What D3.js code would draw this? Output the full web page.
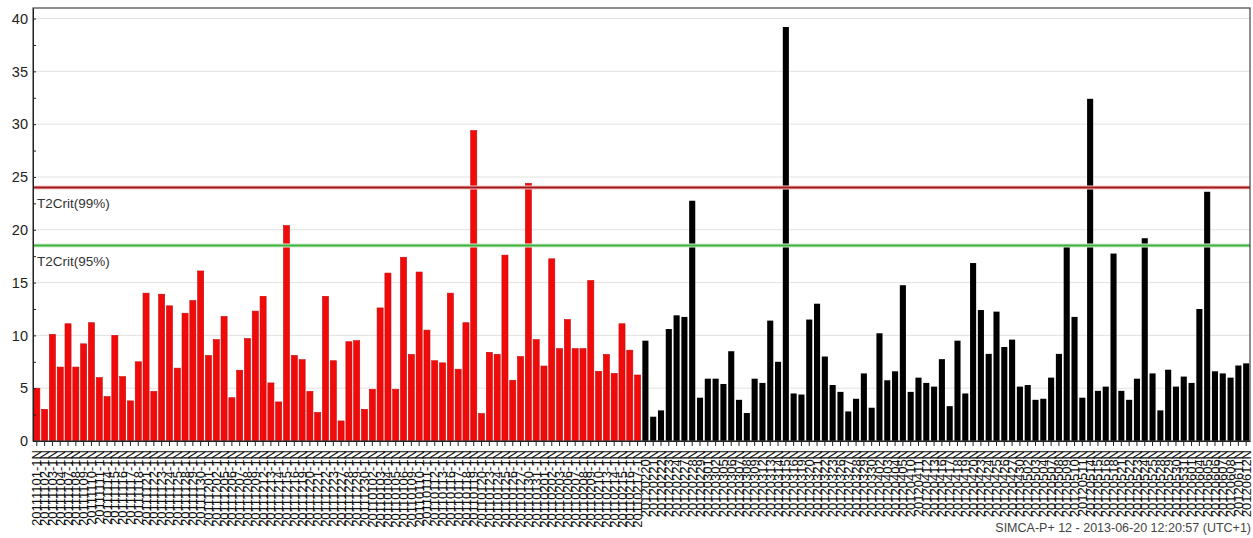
<!DOCTYPE html>
<html>
<head>
<meta charset="utf-8">
<script src="https://cdn.jsdelivr.net/npm/d3@7"></script>
<style>
  body { margin: 0; background: #fff; }
  svg { display: block; font-family: "Liberation Sans", Arial, sans-serif; }
</style>
</head>
<body>
<div id="chart"></div>
<script>
// observation ids, first block (red) and second block (black)
const redIds = ("1101 1102 1103 1104 1107 1108 1109 1110 1111 1114 1115 1116 1117 1118 1121 1122 1123 1124 1125 1128 " +
  "1129 1130 1201 1202 1205 1206 1207 1208 1209 1212 1213 1214 1215 1216 1219 1220 1221 1222 1223 1227 " +
  "1228 1229 1230 0102 0103 0104 0105 0106 0109 0110 0111 0112 0113 0116 0117 0118 0119 0120 0123 0124 " +
  "0125 0126 0127 0130 0131 0201 0202 0203 0206 0207 0208 0209 0210 0213 0214 0215 0216 0217").split(" ");
const blackIds = ("0220 0221 0222 0223 0224 0227 0228 0229 0301 0302 0305 0306 0307 0308 0309 0312 0313 0314 0315 0316 " +
  "0319 0320 0321 0322 0323 0326 0327 0328 0329 0330 0402 0403 0404 0405 0410 0411 0412 0413 0416 0417 " +
  "0418 0419 0420 0423 0424 0425 0426 0427 0430 0502 0503 0504 0507 0508 0509 0510 0511 0514 0515 0516 " +
  "0518 0521 0522 0523 0524 0525 0528 0529 0530 0531 0601 0604 0605 0606 0607 0608 0611 0612").split(" ");

const redValues = [5.0, 3.0, 10.1, 7.0, 11.1, 7.0, 9.2, 11.2, 6.0, 4.2, 10.0, 6.1, 3.8, 7.5, 14.0, 4.7, 13.9, 12.8, 6.9, 12.1,
  13.3, 16.1, 8.1, 9.6, 11.8, 4.1, 6.7, 9.7, 12.3, 13.7, 5.5, 3.7, 20.4, 8.1, 7.7, 4.7, 2.7, 13.7, 7.6, 1.9,
  9.4, 9.5, 3.0, 4.9, 12.6, 15.9, 4.9, 17.4, 8.2, 16.0, 10.5, 7.6, 7.4, 14.0, 6.8, 11.2, 29.4, 2.6, 8.4, 8.2,
  17.6, 5.75, 8.0, 24.4, 9.6, 7.1, 17.25, 8.75, 11.5, 8.75, 8.75, 15.2, 6.6, 8.2, 6.4, 11.1, 8.6, 6.25];
const blackValues = [9.5, 2.3, 2.9, 10.6, 11.9, 11.75, 22.75, 4.1, 5.9, 5.9, 5.4, 8.5, 3.9, 2.65, 5.9, 5.5, 11.4, 7.5, 39.2, 4.5,
  4.4, 11.5, 13.0, 8.0, 5.3, 4.65, 2.8, 4.0, 6.4, 3.15, 10.2, 5.75, 6.6, 14.75, 4.65, 6.0, 5.5, 5.15, 7.75, 3.3,
  9.5, 4.5, 16.85, 12.4, 8.25, 12.25, 8.9, 9.6, 5.15, 5.3, 3.9, 4.0, 6.0, 8.25, 18.5, 11.75, 4.1, 32.4, 4.75, 5.15,
  17.75, 4.75, 3.9, 5.9, 19.2, 6.4, 2.9, 6.75, 5.15, 6.1, 5.5, 12.5, 23.6, 6.6, 6.4, 6.0, 7.15, 7.35];

const limits = [
  { name: "T2Crit(99%)", value: 24.0 },
  { name: "T2Crit(95%)", value: 18.5 }
];
const footer = "SIMCA-P+ 12 - 2013-06-20 12:20:57 (UTC+1)";

const width = 1253;
const height = 538;
const padding = { top: 8, right: 3, bottom: 97, left: 33 };

let data = [];
for (let i = 0; i < redIds.length; i++) {
  data.push({ label: "2011" + redIds[i] + "-1N", value: redValues[i], group: "red" });
}
for (let i = 0; i < blackIds.length; i++) {
  data.push({ label: "2012" + blackIds[i] + "N", value: blackValues[i], group: "black" });
}

const svg = d3.select("#chart")
  .append("svg")
  .attr("width", width)
  .attr("height", height);

const x = d3.scaleBand()
  .domain(data.map(d => d.label))
  .range([padding.left, width - padding.right])
  .paddingInner(0.22)
  .paddingOuter(0.1);

const y = d3.scaleLinear()
  .domain([0, 41])
  .range([height - padding.bottom, padding.top]);

// grid
svg.append("g")
  .selectAll("line")
  .data(d3.range(5, 41, 5))
  .enter()
  .append("line")
  .attr("x1", padding.left)
  .attr("x2", width - padding.right)
  .attr("y1", d => y(d))
  .attr("y2", d => y(d))
  .attr("stroke", "#e2e2e2");

// bars
svg.append("g")
  .selectAll("rect")
  .data(data)
  .enter()
  .append("rect")
  .attr("x", d => x(d.label))
  .attr("y", d => y(d.value))
  .attr("width", x.bandwidth())
  .attr("height", d => y(0) - y(d.value))
  .attr("fill", d => d.group === "red" ? "#f00a0a" : "#000")
  .attr("stroke", d => d.group === "red" ? "#c80a0a" : "none")
  .attr("stroke-width", 0.6);

// limit lines
const limitColors = ["#a3161a", "#3fb23f"];
const haloColors = ["#f2c4c4", "#cdeccd"];
limits.forEach((l, i) => {
  svg.append("line")
    .attr("x1", padding.left).attr("x2", width - padding.right)
    .attr("y1", y(l.value)).attr("y2", y(l.value))
    .attr("stroke", haloColors[i]).attr("stroke-width", 4);
  svg.append("line")
    .attr("x1", padding.left).attr("x2", width - padding.right)
    .attr("y1", y(l.value)).attr("y2", y(l.value))
    .attr("stroke", limitColors[i]).attr("stroke-width", 2);
  svg.append("text")
    .attr("x", padding.left + 4)
    .attr("y", y(l.value) + 20)
    .attr("font-size", 13.5)
    .attr("fill", "#333")
    .text(l.name);
});

// frame
svg.append("rect")
  .attr("x", padding.left)
  .attr("y", padding.top)
  .attr("width", width - padding.right - padding.left)
  .attr("height", y(0) - padding.top)
  .attr("fill", "none")
  .attr("stroke", "#444")
  .attr("stroke-width", 1.2);

// y axis
const yAxis = svg.append("g")
  .attr("transform", `translate(${padding.left},0)`)
  .call(d3.axisLeft(y)
    .tickValues(d3.range(0, 41, 2.5))
    .tickSizeInner(4)
    .tickSizeOuter(0)
    .tickPadding(1)
    .tickFormat(d => d % 5 === 0 ? d : ""));
yAxis.select(".domain").attr("stroke", "#222");
yAxis.selectAll(".tick line").attr("x2", 3).attr("stroke", "#222");
yAxis.selectAll(".tick text")
  .attr("font-size", 14.5)
  .attr("font-family", "Liberation Sans, Arial, sans-serif")
  .attr("fill", "#222");

// x axis
const xAxis = svg.append("g")
  .attr("transform", `translate(0,${y(0)})`)
  .call(d3.axisBottom(x).tickSizeInner(5).tickSizeOuter(0));
xAxis.select(".domain").attr("stroke", "#222");
xAxis.selectAll(".tick line").attr("stroke", "#222");
xAxis.selectAll(".tick text")
  .attr("transform", "rotate(-90)")
  .attr("x", -9)
  .attr("y", 0)
  .attr("dy", "0.35em")
  .attr("text-anchor", "end")
  .attr("font-size", 13)
  .attr("font-family", "Liberation Sans, Arial, sans-serif")
  .attr("fill", "#111");

svg.append("text")
  .attr("x", width - 2)
  .attr("y", 532)
  .attr("text-anchor", "end")
  .attr("font-size", 12.5)
  .attr("fill", "#444")
  .text(footer);
</script>
</body>
</html>
